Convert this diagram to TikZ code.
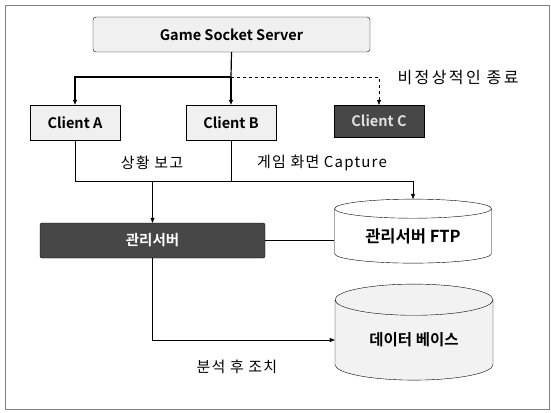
\documentclass[tikz,border=0pt]{standalone}
\usepackage{fontspec}
\setmainfont{Noto Sans CJK KR}[BoldFont={Noto Sans CJK KR Bold}]
\newfontfamily\lblfont{Noto Sans CJK KR}[LetterSpace=8]
\newfontfamily\widefont{Noto Sans CJK KR}[LetterSpace=15]
\usetikzlibrary{shapes,arrows.meta,positioning,calc}

\begin{document}
\begin{tikzpicture}[x=1pt,y=-1pt,
    box/.style={draw, fill=gray!12, inner sep=0pt, font=\bfseries\fontsize{14.5}{16}\selectfont},
    darkbox/.style={draw, fill=black!72, text=white, inner sep=0pt, font=\bfseries\fontsize{14.5}{16}\selectfont},
    db/.style={draw, cylinder, shape border rotate=90, inner sep=0pt, font=\bfseries\fontsize{15.5}{17}\selectfont},
    lbl/.style={font=\lblfont\fontsize{15}{17}\selectfont},
    tip/.style={-{Triangle[length=5pt,width=4pt]}}]
    \useasboundingbox (0,0) rectangle (551,412);
    % Frame
    \draw[gray] (5,5) rectangle (549,409);
    % Server and clients
    \node[box, rounded corners=3pt, minimum width=277pt, minimum height=35pt] (srv) at (231.5,34.5) {Game Socket Server};
    \node[box, minimum width=90pt, minimum height=35pt] (ca) at (75,122.5) {Client A};
    \node[box, minimum width=90pt, minimum height=35pt] (cb) at (231,122.5) {Client B};
    \node[darkbox, text=gray!25, minimum width=90pt, minimum height=32pt] (cc) at (379,121) {Client C};
    % Management side
    \node[darkbox, rounded corners=2pt, minimum width=225pt, minimum height=35pt] (ms) at (152.5,240.5) {관리서버};
    \node[db, fill=white, aspect=0.2, minimum width=157pt, minimum height=64pt, font=\bfseries\fontsize{16.5}{18}\selectfont] (ftp) at (413,236) {관리서버 FTP};
    \node[db, fill=gray!10, aspect=0.35, minimum width=158pt, minimum height=96pt] (dbase) at (414,340) {데이터 베이스};
    % Connections from server
    \coordinate (j) at (231,77);
    \draw[very thick] (srv.south) -- (j);
    \draw[very thick, tip] (j) -| (ca.north);
    \draw[very thick, tip] (j) -- (cb.north);
    \draw[dashed, tip] (j) -| (cc.north);
    \node[anchor=west, font=\widefont\fontsize{16}{18}\selectfont] (stop) at (394,78) {비정상적인 종료};
    % Reports
    \coordinate (rep) at (231,181);
    \draw[semithick] (ca.south) |- (rep);
    \draw[semithick] (cb.south) -- (rep);
    \draw[tip] (rep) -| (ftp.north);
    \draw[tip] (ms.north |- rep) -- (ms.north);
    \node[lbl] (report) at (152,163) {상황 보고};
    \node[lbl] (cap) at (322,163) {게임 화면 Capture};
    % Management server links
    \draw (ms.east) -- (ms.east -| ftp.west);
    \draw[tip] (ms.south) |- (dbase.west);
    \node[lbl] (act) at (237,367) {분석 후 조치};
\end{tikzpicture}
\end{document}
